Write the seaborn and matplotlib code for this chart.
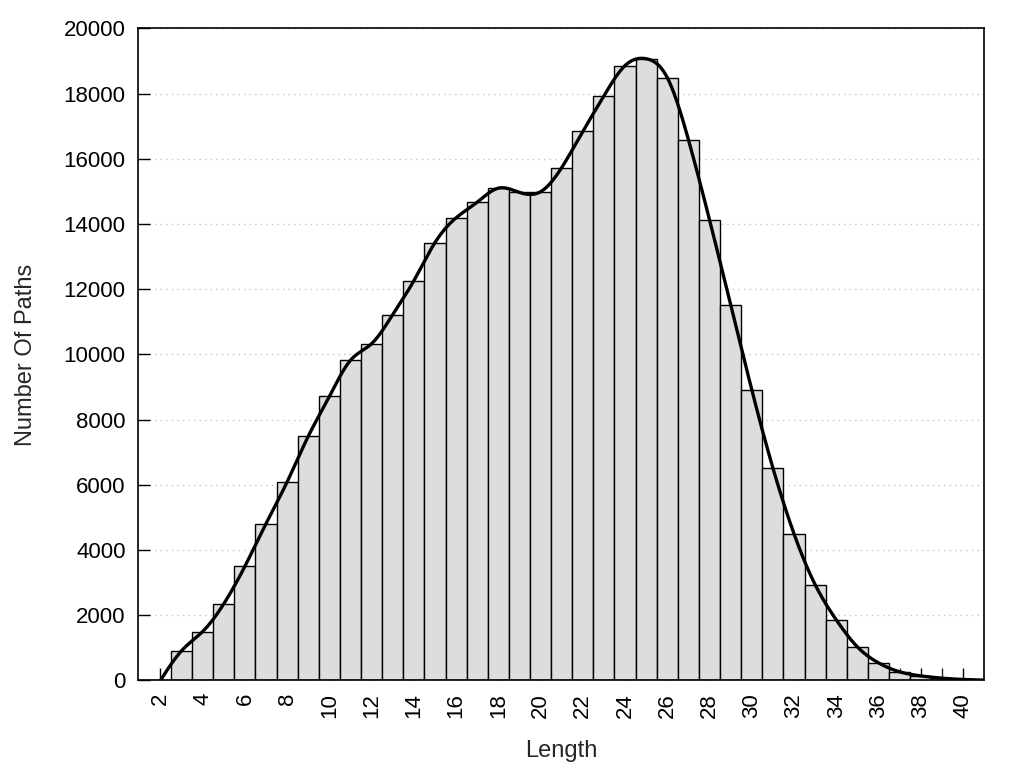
import numpy as np
import pandas as pd
import seaborn as sns
import matplotlib
matplotlib.use('Agg')
import matplotlib.pyplot as plt
from matplotlib.ticker import FixedLocator

# data
lengths = list(range(2, 42))
counts = [0, 910, 1500, 2350, 3500, 4810, 6090, 7490, 8710, 9820,
          10330, 11220, 12260, 13430, 14190, 14670, 15100, 14970, 14990, 15730,
          16840, 17930, 18860, 19070, 18490, 16590, 14130, 11530, 8920, 6520,
          4500, 2940, 1860, 1030, 540, 265, 140, 70, 30, 10]
xticks = list(range(2, 41, 2))
xminor = list(range(3, 40, 2))
yticks = list(range(0, 20001, 2000))


# natural cubic spline through the points (like gnuplot csplines)
def natural_spline(x, y, xs):
    x = np.asarray(x, float)
    y = np.asarray(y, float)
    n = len(x)
    h = np.diff(x)
    A = np.zeros((n, n))
    b = np.zeros(n)
    A[0, 0] = 1
    A[-1, -1] = 1
    for i in range(1, n - 1):
        A[i, i - 1] = h[i - 1]
        A[i, i] = 2 * (h[i - 1] + h[i])
        A[i, i + 1] = h[i]
        b[i] = 6 * ((y[i + 1] - y[i]) / h[i] - (y[i] - y[i - 1]) / h[i - 1])
    M = np.linalg.solve(A, b)
    idx = np.clip(np.searchsorted(x, xs) - 1, 0, n - 2)
    x0, x1 = x[idx], x[idx + 1]
    hh = x1 - x0
    t0 = x1 - xs
    t1 = xs - x0
    return (M[idx] * t0**3 / (6 * hh) + M[idx + 1] * t1**3 / (6 * hh)
            + (y[idx] / hh - M[idx] * hh / 6) * t0
            + (y[idx + 1] / hh - M[idx + 1] * hh / 6) * t1)


df = pd.DataFrame({'length': lengths, 'count': counts})
xs = np.linspace(lengths[0], lengths[-1], 800)
curve = pd.DataFrame({'x': xs, 'y': natural_spline(lengths, counts, xs)})

sns.set_style('white')
plt.rcParams['font.family'] = ['Liberation Sans', 'DejaVu Sans']
plt.rcParams['font.size'] = 16

fig = plt.figure(figsize=(10.24, 7.68), dpi=100)
ax = fig.add_axes([0.135, 0.114, 0.826, 0.849])

ax.yaxis.grid(True, linestyle=(0, (1, 3)), color='#c4c4c4', lw=1)
ax.set_axisbelow(True)

sns.histplot(data=df, x='length', weights='count', discrete=True,
             color='#dddddd', edgecolor='black', linewidth=1, alpha=1, ax=ax)
sns.lineplot(data=curve, x='x', y='y', color='black', lw=2.4, sort=False, ax=ax)

ax.set_xlim(0.95, 41)
ax.set_ylim(0, 20000)
ax.set_xticks(xticks)
ax.xaxis.set_minor_locator(FixedLocator(xminor))
ax.set_yticks(yticks)
ax.tick_params(axis='x', which='both', direction='in', length=8.6, width=1,
               pad=9, labelrotation=90, bottom=True, top=False)
ax.tick_params(axis='y', direction='in', length=8.6, width=1, pad=9,
               left=True, right=False)
ax.tick_params(labelsize=16, colors='black')

for s in ax.spines.values():
    s.set_color('black')
    s.set_linewidth(1.2)

ax.set_xlabel('Length', fontsize=17)
ax.set_ylabel('Number Of Paths', fontsize=17)
ax.xaxis.set_label_coords(0.5, -0.091)
ax.yaxis.set_label_coords(-0.12, 0.5)

fig.savefig('out.png', dpi=100)
